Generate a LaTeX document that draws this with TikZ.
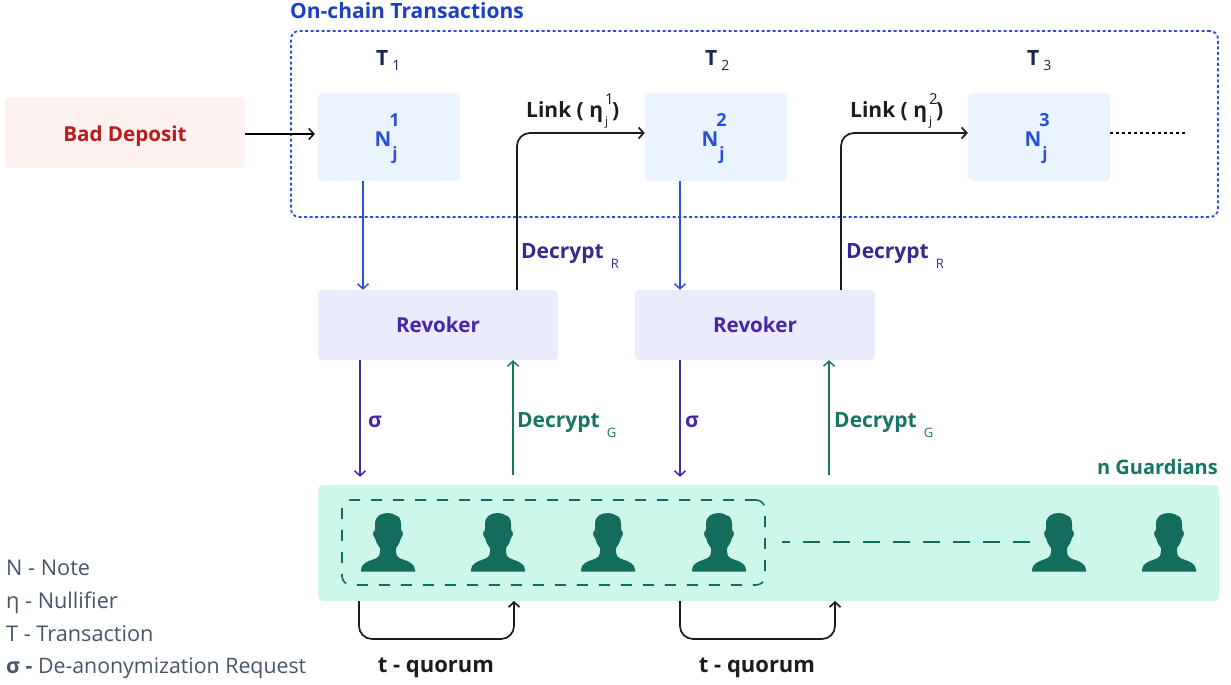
\documentclass[tikz,border=0pt]{standalone}
\usepackage{fontspec}
\setmainfont{Open Sans}
\usetikzlibrary{arrows.meta}
\definecolor{cblue}{HTML}{2B4FD8}
\definecolor{ctitle}{HTML}{1D40C0}
\definecolor{cnavy}{HTML}{172554}
\definecolor{cpurple}{HTML}{4527A8}
\definecolor{cdpurple}{HTML}{372A8E}
\definecolor{cgreen}{HTML}{197565}
\definecolor{cdgreen}{HTML}{146C5C}
\definecolor{cgfill}{HTML}{CDF7EA}
\definecolor{cnfill}{HTML}{EAF4FF}
\definecolor{crfill}{HTML}{EBEBFE}
\definecolor{cbfill}{HTML}{FEF2F0}
\definecolor{cred}{HTML}{B91C1C}
\definecolor{cblack}{HTML}{1C1C1C}
\definecolor{cslate}{HTML}{475569}
\tikzset{
  x=1pt,y=-1pt,
  boxbase/.style={rectangle,rounded corners=4pt,inner sep=0pt,font=\bfseries\fontsize{20.6}{24}\selectfont},
  notebox/.style={boxbase,fill=cnfill,text=cblue,minimum width=142pt,minimum height=88pt},
  revbox/.style={boxbase,fill=crfill,text=cpurple,minimum width=240pt,minimum height=70pt},
  tip/.style={-{Straight Barb[length=5pt,width=11pt]}},
  conn/.style={tip,line width=1.5pt},
  elbow/.style={conn,line width=1.7pt,rounded corners=13pt,cblack},
  lab/.style={anchor=base west,inner sep=0pt,font=\bfseries\fontsize{21}{24}\selectfont},
  leg/.style={anchor=base west,inner sep=0pt,text=cslate,font=\fontsize{21.7}{24}\selectfont},
  quorumlab/.style={anchor=base,inner sep=0pt,text=cblack,font=\bfseries\fontsize{22}{26}\selectfont},
  person/.pic={
    \fill[cdgreen] (-27,57) .. controls (-27,51) and (-21,48.5) .. (-15,46.5) .. controls (-10,45) and (-8,43) .. (-8,38)
      -- (-8,35) .. controls (-11,31) and (-12.5,28) .. (-13,25) .. controls (-15.5,23) and (-15.5,18) .. (-13,17)
      -- (-13,11) .. controls (-13,3) and (-7,0) .. (0,0) .. controls (3,0) and (6,1) .. (8,2.5) .. controls (11,3) and (13,6) .. (13,11)
      -- (13,17) .. controls (15.5,18) and (15.5,23) .. (13,25) .. controls (12.5,28) and (11,31) .. (8,35)
      -- (8,38) .. controls (8,43) and (10,45) .. (15,46.5) .. controls (21,48.5) and (27,51) .. (27,57)
      -- (27,58.5) -- (-27,58.5) -- cycle;
  }
}
\newcommand{\NoteLab}[2]{\raisebox{-9pt}[0pt][0pt]{N\rlap{\raisebox{19.5pt}{\kern-2pt\fontsize{18}{20}\selectfont #1}}\raisebox{-13pt}{\kern1pt\fontsize{17}{20}\selectfont #2}\kern6pt}}
\newcommand{\LinkLab}[1]{Link ( η\rlap{\raisebox{13pt}{\kern2pt\fontsize{15}{17}\mdseries\selectfont #1}}\raisebox{-9pt}{\kern2pt\fontsize{12}{14}\mdseries\selectfont j}\kern4pt)}
\newcommand{\SubLab}[2]{#1\raisebox{-10pt}{\kern7pt\fontsize{13}{15}\mdseries\selectfont #2}}
\newcommand{\TLab}[1]{T\raisebox{-5pt}{\kern4pt\fontsize{14}{16}\mdseries\selectfont #1}}
\begin{document}
\begin{tikzpicture}
\useasboundingbox (0,0) rectangle (1231,685);
% boxes
\node[boxbase,fill=cbfill,text=cred,minimum width=240pt,minimum height=71pt,text depth=0pt] (bad) at (125,132.5) {\raisebox{-2pt}{Bad Deposit}};
\node[draw=cblue,line width=1.8pt,dash pattern=on 3pt off 2.5pt,rounded corners=8pt,inner sep=0pt,minimum width=927pt,minimum height=186pt] (chain) at (754.5,124) {};
\node[lab,text=ctitle] (chaintitle) at (290,19) {On-chain Transactions};
\node[notebox] (n1) at (389,137) {\NoteLab{1}{j}};
\node[notebox] (n2) at (716,137) {\NoteLab{2}{j}};
\node[notebox] (n3) at (1039,137) {\NoteLab{3}{j}};
\node[lab,text=cnavy] (t1) at (376,66) {\TLab{1}};
\node[lab,text=cnavy] (t2) at (705,66) {\TLab{2}};
\node[lab,text=cnavy] (t3) at (1027,66) {\TLab{3}};
\node[revbox] (r1) at (438,325) {Revoker};
\node[revbox] (r2) at (755,325) {Revoker};
\node[rectangle,rounded corners=5pt,fill=cgfill,inner sep=0pt,minimum width=901pt,minimum height=116pt] (guard) at (768.5,543) {};
\node[draw=cdgreen,line width=1.6pt,dash pattern=on 11pt off 11pt,rounded corners=9pt,inner sep=0pt,minimum width=423pt,minimum height=85pt] (quorum) at (553.5,542.5) {};
\node[lab,anchor=base east,text=cgreen,font=\bfseries\fontsize{20}{24}\selectfont] (gtitle) at (1218,474) {n Guardians};
% people
\foreach \nm/\px in {p1/388,p2/498,p3/608,p4/719,p5/1059,p6/1169}{
  \coordinate (\nm) at (\px,513);
  \pic at (\nm) {person};
}
% labels
\node[lab,text=cblack] (l1) at (526,117) {\LinkLab{1}};
\node[lab,text=cblack] (l2) at (850,117) {\LinkLab{2}};
\node[lab,text=cdpurple] (dr1) at (521,258) {\SubLab{Decrypt}{R}};
\node[lab,text=cdpurple] (dr2) at (846,258) {\SubLab{Decrypt}{R}};
\node[lab,text=cgreen] (dg1) at (517,427) {\SubLab{Decrypt}{G}};
\node[lab,text=cgreen] (dg2) at (834,427) {\SubLab{Decrypt}{G}};
\node[lab,text=cpurple] (s1) at (368,427) {σ};
\node[lab,text=cpurple] (s2) at (685,427) {σ};
\node[quorumlab] (q1) at (436,672) {t - quorum};
\node[quorumlab] (q2) at (757,672) {t - quorum};
\node[leg] (k1) at (6,575) {N - Note};
\node[leg] (k2) at (6,608) {η - Nullifier};
\node[leg] (k3) at (6,641) {T - Transaction};
\node[leg,font=\fontsize{21.3}{24}\selectfont] (k4) at (6,673) {\textbf{σ -} De-anonymization Request};
% connectors
\coordinate (dotend) at (1188,133);
\coordinate (dashstart) at (782,542);
\coordinate (dashend) at (1030,542);
\coordinate (qa1) at (359,601);
\coordinate (qb1) at (514,601);
\coordinate (qa2) at (680,601);
\coordinate (qb2) at (835,601);
\draw[conn,black] ([yshift=-1.5pt]bad.east) -- ([xshift=-3pt,yshift=3pt]n1.west);
\draw[elbow] ([xshift=79pt]r1.north) |- ([yshift=4pt]n2.west);
\draw[elbow] ([xshift=86pt]r2.north) |- ([yshift=4pt]n3.west);
\draw[line width=1.6pt,black,dash pattern=on 3pt off 3pt] ([yshift=4pt]n3.east) -- (dotend);
\draw[conn,cblue] ([xshift=-26pt]n1.south) -- ([xshift=-75pt]r1.north);
\draw[conn,cblue] ([xshift=-36pt]n2.south) -- ([xshift=-75pt]r2.north);
\draw[conn,cpurple] ([xshift=-78pt]r1.south) -- ([xshift=-78pt,yshift=8pt]r1.south |- guard.north);
\draw[conn,cpurple] ([xshift=-75pt]r2.south) -- ([xshift=-75pt,yshift=8pt]r2.south |- guard.north);
\draw[conn,cgreen] ([xshift=75pt,yshift=10pt]r1.south |- guard.north) -- ([xshift=75pt]r1.south);
\draw[conn,cgreen] ([xshift=74pt,yshift=10pt]r2.south |- guard.north) -- ([xshift=74pt]r2.south);
\draw[line width=1.3pt,cdgreen,dash pattern=on 17pt off 13pt,dash phase=9pt] (dashstart) -- (dashend);
\draw[elbow] (qa1) -- ++(0,38) -| (qb1);
\draw[elbow] (qa2) -- ++(0,38) -| (qb2);
\end{tikzpicture}
\end{document}
